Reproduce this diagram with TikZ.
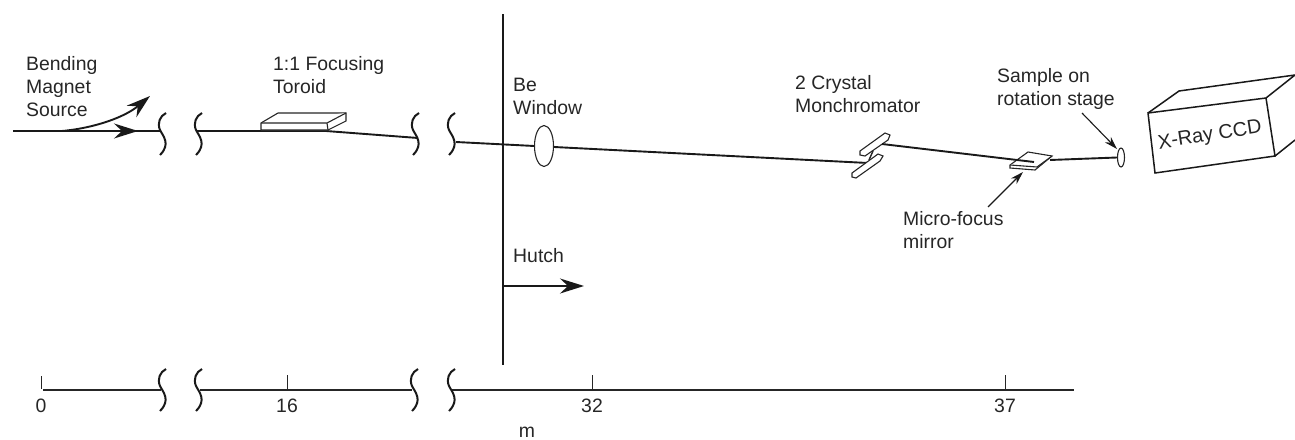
\documentclass[tikz,border=0pt]{standalone}
\usepackage{fontspec}
\setmainfont{Liberation Sans}
\usetikzlibrary{arrows.meta,shapes.geometric}
\tikzset{
  lab/.style={anchor=west,align=left,inner sep=0pt,font=\fontsize{19.4}{23}\selectfont,text=black!85},
  tick lab/.style={anchor=center,inner sep=0pt,font=\fontsize{19.4}{23}\selectfont,text=black!85},
  beam/.style={line width=1.9pt,black!90},
  part/.style={line width=1.1pt,black!85,fill=white},
  bigarrow/.style={line width=1.9pt,black!90,-{Stealth[length=24pt,width=15pt,inset=8pt]}},
  smallarrow/.style={line width=1.1pt,black!90,-{Stealth[length=13pt,width=8pt,inset=4pt]}},
  brk/.pic={\draw[line width=2pt,black!90] (6,0) .. controls (0,3) and (-3,10) .. (0,17) .. controls (3,23) and (11,31) .. (0,42);}
}
\begin{document}
\begin{tikzpicture}[x=1pt,y=-1pt]
\useasboundingbox (0,0) rectangle (1295,439);
% coordinates
\coordinate (bs) at (13,131);
\coordinate (bt1) at (160,131);
\coordinate (bt2) at (197,131);
\coordinate (bt3) at (326,131);
\coordinate (bt4) at (418,138);
\coordinate (bt5) at (456,142);
\coordinate (bt6) at (868,163);
\coordinate (bt7) at (882,144);
\coordinate (bt8) at (1034,162);
\coordinate (bt9) at (1050,160);
\coordinate (tipA) at (138,131);
\coordinate (curveS) at (62,131);
\coordinate (tipB) at (150,96);
% beam
\draw[beam] (bs) -- (bt1);
\draw[bigarrow] (bs) -- (tipA);
\draw[bigarrow] (curveS) .. controls (95,128) and (125,117) .. (tipB);
\draw[beam] (bt2) -- (bt3) -- (bt4);
\draw[beam] (bt5) -- (bt6);
% breaks
\pic at (160,113) {brk};
\pic at (196,113) {brk};
\pic at (413,113) {brk};
\pic at (449,113) {brk};
% toroid
\draw[part] (261,123) -- (278,113) -- (346,113) -- (346,121) -- (328,130) -- (261,130) -- cycle;
\draw[part] (261,123) -- (327,123) -- (346,113) (327,123) -- (328,130);
% Be window
\node[draw,ellipse,minimum width=19pt,minimum height=41pt,inner sep=0pt,line width=1.1pt,black!85,fill=white] (bewin) at (544,146) {};
% monochromator
\draw[part] (860,151) -- (885,133) -- (890,135) -- (888,140) -- (865,156) -- (860,155) -- cycle;
\draw[part] (852,173) -- (878,154) -- (883,156) -- (880,161) -- (856,178) -- (852,177) -- cycle;
\draw[line width=1.4pt,black!85] (873,151) -- (869,160);
% mirror
\draw[part] (1010,165) -- (1028,152) -- (1052,156) -- (1035,170) -- (1010,168) -- cycle;
\draw[part] (1010,165) -- (1037,167) -- (1052,156);
\draw[beam] (bt7) -- (bt8);
% sample
\node[draw,ellipse,minimum width=7pt,minimum height=19pt,inner sep=0pt,line width=1.1pt,black!85,fill=white] (sample) at (1121,157.5) {};
\draw[beam] (bt9) -- (sample.west);
% ccd
\draw[line width=1.5pt,black!90,fill=white] (1148,113) -- (1266,98) -- (1275,156) -- (1155,173) -- cycle;
\draw[line width=1.5pt,black!90] (1148,113) -- (1179,91) -- (1295,75) -- (1266,98);
\draw[line width=1.5pt,black!90] (1275,156) -- (1295,140);
\node[tick lab,rotate=9,font=\fontsize{20}{23}\selectfont] (ccd) at (1210,136) {X-Ray CCD};
% hutch line
\coordinate (vtop) at (503,14);
\coordinate (vbot) at (503,365);
\draw[line width=2pt,black!90] (vtop) -- (vbot);
\coordinate (hs) at (503,286);
\coordinate (he) at (584,286);
\draw[bigarrow] (hs) -- (he);
% labels
\node[lab] (bend) at (26,87) {Bending\\Magnet\\Source};
\node[lab] (toroid) at (273,75) {1:1 Focusing\\Toroid};
\node[lab] (be) at (513,96.5) {Be\\Window};
\node[lab] (crystal) at (795,94) {2 Crystal\\Monchromator};
\node[lab] (samplab) at (997,89) {Sample on\\rotation stage};
\node[lab] (micro) at (903,230) {Micro-focus\\mirror};
\node[lab] (hutch) at (513,256) {Hutch};
% leader arrows
\coordinate (sa) at (1082,113);
\coordinate (sb) at (1117,149);
\draw[smallarrow] (sa) -- (sb);
\coordinate (ma) at (988,207);
\coordinate (mb) at (1023,172);
\draw[smallarrow] (ma) -- (mb);
% scale
\coordinate (a0) at (43,390);
\coordinate (a1) at (161,390);
\coordinate (a2) at (200,390);
\coordinate (a3) at (412,390);
\coordinate (a4) at (452,390);
\coordinate (a5) at (1074,390);
\draw[line width=1.6pt,black!85] (a0) -- (a1);
\draw[line width=1.6pt,black!85] (a2) -- (a3);
\draw[line width=1.6pt,black!85] (a4) -- (a5);
\pic at (160,369) {brk};
\pic at (196,369) {brk};
\pic at (412,369) {brk};
\pic at (449,369) {brk};
\coordinate (t0a) at (41,376);\coordinate (t0b) at (41,389);
\coordinate (t1a) at (287,375);\coordinate (t1b) at (287,390);
\coordinate (t2a) at (592,375);\coordinate (t2b) at (592,390);
\coordinate (t3a) at (1005,375);\coordinate (t3b) at (1005,390);
\draw[line width=.9pt,black!85] (t0a) -- (t0b) (t1a) -- (t1b) (t2a) -- (t2b) (t3a) -- (t3b);
\node[tick lab] (n0) at (41,406) {0};
\node[tick lab] (n16) at (287,406) {16};
\node[tick lab] (n32) at (592,406) {32};
\node[tick lab] (n37) at (1005,406) {37};
\node[tick lab] (unit) at (527,432) {m};
\end{tikzpicture}
\end{document}
